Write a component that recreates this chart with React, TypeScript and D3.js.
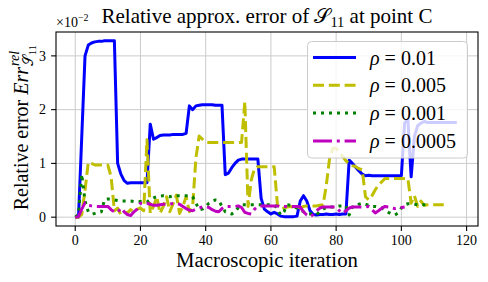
import * as d3 from "d3";

const W = 488;
const H = 282;
const M = { top: 32, right: 10, bottom: 56, left: 56 };
const FONT = "'Liberation Serif', 'Times New Roman', serif";

// relative error of S11 at point C, in units of 1e-2, one value per macroscopic iteration
const rho001 = [
  0, 0, 1.5, 3.0, 3.2, 3.24, 3.26, 3.27, 3.27, 3.28, 3.28, 3.28, 3.28,
  1.0, 0.8, 0.68, 0.63, 0.64, 0.64, 0.64, 0.64, 0.64, 0.64,
  1.73, 1.45, 1.48, 1.52, 1.53, 1.53, 1.53, 1.54, 1.54, 1.54, 1.54, 1.56,
  2.07, 2.0, 2.07, 2.08, 2.09, 2.09, 2.09, 2.09, 2.08, 2.08, 2.08,
  0.79, 0.82, 0.92, 1.0, 1.06, 1.08, 1.08, 1.08, 1.08, 1.08, 1.08,
  0.35, 0.15, 0.1, 0.06, 0.09, 0.06, 0.02, 0.01, 0.01, 0.01, 0.01, 0.02,
  0.3, 0.4, 0.3, 0.12, 0.05, 0.04, 0.05, 0.05, 0.06, 0.05, 0.05, 0.06, 0.05, 0.06, 0.06,
  1.06, 1.0, 0.93, 0.86, 0.8, 0.77, 0.78, 0.77, 0.77, 0.77, 0.77, 0.77, 0.77, 0.77, 0.77, 0.77, 0.77,
  1.75, 1.82, 0.75, 1.5, 1.7, 1.75, 1.78, 1.76, 1.76, 1.76, 1.76, 1.76, 1.76, 1.76, 1.76, 1.76, 1.76,
];
const rho0005 = [
  0, 0, 0.05, 0.5, 1.02, 1.0, 0.97, 0.97, 0.97, 0.97, 0.97, 0.75, 0.12,
  0.17, 0.04, 0.1, 0.08, 0.14, 0.1, 0.15, 0.17, 0.12,
  1.44,
  0.07, 0.2, 0.38, 0.07, 0.2, 0.38, 0.1, 0.25, 0.41, 0.07, 0.2, 0.38, 0.1, 0.2,
  1.1, 1.51, 1.45, 1.4, 1.39, 1.39, 1.39, 1.39, 1.39, 1.39, 1.39, 1.39, 1.39, 1.39, 1.39,
  2.15, 0.2, 0.7, 0.91, 0.94, 0.94, 0.94, 0.94, 0.94, 0.94,
  0.23, 0.15, 0.17, 0.19, 0.2, 0.18, 0.2, 0.17, 0.2, 0.21, 0.21, 0.21, 0.21, 0.22, 0.23,
  0.6, 1.1, 1.28, 1.28, 1.2, 1.13, 1.05, 1.0, 0.96, 0.94, 0.9, 0.88,
  0.38, 0.32, 0.4, 0.51, 0.6, 0.66, 0.72, 0.72, 0.72, 0.72, 0.72, 0.72, 0.72, 0.72,
  0.26, 0.4, 0.2, 0.3, 0.22, 0.23, 0.23, 0.23, 0.23, 0.23, 0.23,
];
const rho0001 = [
  0, 0.05, 0.8, 0.3, 0.1, 0.06, 0.07, 0.09, 0.1,
  0.33, 0.34, 0.33, 0.32, 0.31, 0.3, 0.3, 0.3, 0.3, 0.29, 0.29, 0.29, 0.28, 0.28,
  0.33, 0.36, 0.38, 0.39, 0.4, 0.39, 0.38, 0.4, 0.4, 0.4, 0.4, 0.4, 0.4, 0.38,
  0.26, 0.14, 0.15, 0.2, 0.26, 0.3, 0.32, 0.31, 0.2, 0.1, 0.08, 0.06, 0.1, 0.18,
  0.23, 0.23, 0.23, 0.23, 0.23, 0.23, 0.23, 0.23, 0.23, 0.23, 0.23, 0.15, 0.04, 0.1,
  0.23, 0.22, 0.2, 0.17, 0.14, 0.1, 0.06, 0.06, 0.07, 0.05, 0.1, 0.15, 0.18, 0.19, 0.19, 0.2, 0.21, 0.21, 0.21, 0.04,
  0.19, 0.2, 0.24, 0.26, 0.24, 0.22, 0.2, 0.2, 0.19, 0.17, 0.13, 0.09, 0.06, 0.04, 0.08, 0.17, 0.23, 0.25, 0.25, 0.24, 0.23, 0.23, 0.23, 0.23,
];
const rho00005 = [
  0, 0.01, 0.15, 0.27, 0.22, 0.21, 0.2, 0.2, 0.2, 0.2, 0.2,
  0.14, 0.1, 0.09, 0.17, 0.1, 0.05, 0.03, 0.1, 0.15,
  0.26, 0.26, 0.26, 0.24, 0.22, 0.22, 0.23, 0.24, 0.24, 0.25, 0.25, 0.25, 0.24,
  0.2, 0.16, 0.13, 0.12, 0.15, 0.17, 0.19, 0.2, 0.18, 0.14, 0.11, 0.1, 0.16, 0.2, 0.2, 0.2, 0.2, 0.21,
  0.18, 0.09, 0.07, 0.06, 0.15, 0.2, 0.21, 0.21, 0.21, 0.21, 0.21, 0.21, 0.2, 0.2, 0.2, 0.2, 0.2, 0.2, 0.19,
  0.1, 0.04, 0.01, 0.05, 0.12, 0.17, 0.19, 0.19, 0.19, 0.19, 0.19, 0.12, 0.07, 0.12, 0.17, 0.19, 0.19, 0.19, 0.19, 0.19,
  0.2, 0.14, 0.08, 0.12, 0.17, 0.2, 0.19, 0.17, 0.16, 0.17, 0.18, 0.19,
];

const seriesLabels = ["0.01", "0.005", "0.001", "0.0005"];
const seriesValues = [rho001, rho0005, rho0001, rho00005];
const seriesColors = ["#0000ff", "#bfbf00", "#008000", "#bf00bf"];
const seriesDash = [undefined, "11 4.8", "3 5", "19 4.8 3 4.8"];

const xTicks = [0, 20, 40, 60, 80, 100, 120];
const yTicks = [0, 1, 2, 3];

export default function App() {
  const x = d3.scaleLinear().domain([-5.9, 123.5]).range([M.left, W - M.right]);
  const y = d3.scaleLinear().domain([-0.164, 3.444]).range([H - M.bottom, M.top]);
  const line = d3
    .line<number>()
    .x((_, i) => x(i))
    .y((d) => y(d));

  const x0 = M.left;
  const x1 = W - M.right;
  const y0 = H - M.bottom;
  const y1 = M.top;
  const cx = (x0 + x1) / 2;
  const cy = (y0 + y1) / 2;

  // legend layout
  const lg = { x: 307.5, y: 41.5, w: 160, h: 116.5, row0: 57.5, step: 27.8 };

  return (
    <svg
      width={W}
      height={H}
      viewBox={`0 0 ${W} ${H}`}
      style={{ position: "absolute", left: 0, top: 0, background: "#fff" }}
      fontFamily={FONT}
    >
      <rect width={W} height={H} fill="#fff" />

      {/* grid */}
      {xTicks.map((t) => (
        <line key={`gx${t}`} x1={x(t)} x2={x(t)} y1={y1} y2={y0} stroke="#cbcbcb" strokeWidth={1} />
      ))}
      {yTicks.map((t) => (
        <line key={`gy${t}`} x1={x0} x2={x1} y1={y(t)} y2={y(t)} stroke="#cbcbcb" strokeWidth={1} />
      ))}

      {/* series */}
      {seriesValues.map((vals, i) => (
        <path
          key={seriesLabels[i]}
          d={line(vals) ?? ""}
          fill="none"
          stroke={seriesColors[i]}
          strokeWidth={3}
          strokeDasharray={seriesDash[i]}
          strokeLinejoin="round"
        />
      ))}

      {/* frame */}
      <rect x={x0} y={y1} width={x1 - x0} height={y0 - y1} fill="none" stroke="#000" strokeWidth={1.1} />

      {/* ticks */}
      {xTicks.map((t) => (
        <g key={`tx${t}`}>
          <line x1={x(t)} x2={x(t)} y1={y0} y2={y0 + 4.9} stroke="#000" strokeWidth={1.1} />
          <text x={x(t)} y={y0 + 19} textAnchor="middle" fontSize={14}>
            {t}
          </text>
        </g>
      ))}
      {yTicks.map((t) => (
        <g key={`ty${t}`}>
          <line x1={x0 - 4.9} x2={x0} y1={y(t)} y2={y(t)} stroke="#000" strokeWidth={1.1} />
          <text x={x0 - 10} y={y(t) + 4.8} textAnchor="end" fontSize={14}>
            {t}
          </text>
        </g>
      ))}

      {/* offset text */}
      <text x={x0} y={y1 - 5} fontSize={14}>
        ×10
        <tspan dy={-6} fontSize={10}>−2</tspan>
      </text>

      {/* title */}
      <text x={cx} y={23} textAnchor="middle" fontSize={21}>
        Relative approx. error of 𝒮
        <tspan dy={4} fontSize={14.5}>11</tspan>
        <tspan dy={-4}> at point C</tspan>
      </text>

      {/* x label */}
      <text x={cx} y={267} textAnchor="middle" fontSize={20.8}>
        Macroscopic iteration
      </text>

      {/* y label */}
      <g transform={`translate(28,${cy}) rotate(-90)`}>
        <text x={62} y={0} textAnchor="end" fontSize={20}>
          Relative error <tspan fontStyle="italic">Err</tspan>
        </text>
        <text x={63} y={-9} fontSize={14} fontStyle="italic">
          rel
        </text>
        <text x={63} y={5} fontSize={14}>
          𝒮<tspan dy={3} fontSize={10}>11</tspan>
        </text>
      </g>

      {/* legend */}
      <rect
        x={lg.x}
        y={lg.y}
        width={lg.w}
        height={lg.h}
        rx={4}
        fill="#fff"
        fillOpacity={0.8}
        stroke="#cccccc"
        strokeWidth={1}
      />
      {seriesLabels.map((lab, i) => {
        const ly = lg.row0 + i * lg.step;
        return (
          <g key={`lg${lab}`}>
            <line
              x1={313}
              x2={356}
              y1={ly}
              y2={ly}
              stroke={seriesColors[i]}
              strokeWidth={3}
              strokeDasharray={seriesDash[i]}
            />
            <text x={370} y={ly + 7} fontSize={20} fontFamily={FONT}>
              <tspan fontStyle="italic">ρ</tspan> = {lab}
            </text>
          </g>
        );
      })}
    </svg>
  );
}
